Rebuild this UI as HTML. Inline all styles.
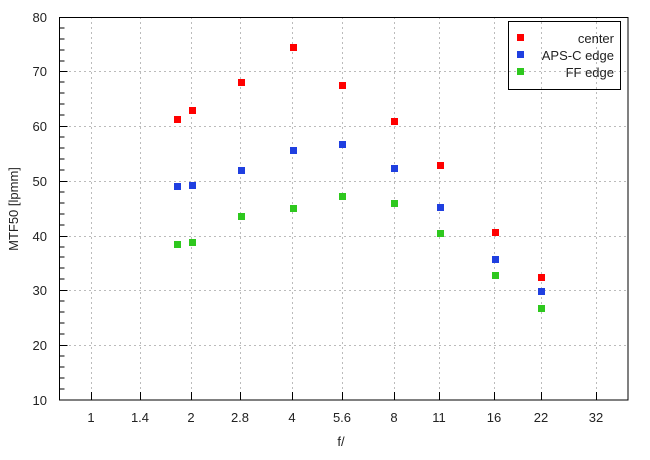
<!DOCTYPE html>
<html><head><meta charset="utf-8"><style>body{margin:0;background:#fff}</style></head><body>
<svg width="650" height="455" xmlns="http://www.w3.org/2000/svg" font-family="Liberation Sans, sans-serif" font-size="13" fill="#222">
<rect width="650" height="455" fill="#fff"/>
<g stroke="#bbb" stroke-dasharray="2,3" stroke-width="1">
<line x1="59" x2="628" y1="345.5" y2="345.5"/><line x1="59" x2="628" y1="290.5" y2="290.5"/><line x1="59" x2="628" y1="236.5" y2="236.5"/><line x1="59" x2="628" y1="181.5" y2="181.5"/><line x1="59" x2="628" y1="126.5" y2="126.5"/><line x1="59" x2="628" y1="71.5" y2="71.5"/>
<line x1="91.5" x2="91.5" y1="17" y2="400"/><line x1="140.5" x2="140.5" y1="17" y2="400"/><line x1="191.5" x2="191.5" y1="17" y2="400"/><line x1="240.5" x2="240.5" y1="17" y2="400"/><line x1="292.5" x2="292.5" y1="17" y2="400"/><line x1="342.5" x2="342.5" y1="17" y2="400"/><line x1="394.5" x2="394.5" y1="17" y2="400"/><line x1="439.5" x2="439.5" y1="17" y2="400"/><line x1="494.5" x2="494.5" y1="17" y2="400"/><line x1="541.5" x2="541.5" y1="17" y2="400"/><line x1="596.5" x2="596.5" y1="17" y2="400"/>
</g>
<g stroke="#000" stroke-width="1">
<path d="M59.5 400 v-6 M59.5 389 h5 M59.5 378 h5 M59.5 367 h5 M59.5 356 h5 M59.5 345.5 h8 M59.5 334 h5 M59.5 323 h5 M59.5 312 h5 M59.5 301 h5 M59.5 290.5 h8 M59.5 279 h5 M59.5 268 h5 M59.5 257 h5 M59.5 247 h5 M59.5 236.5 h8 M59.5 225 h5 M59.5 214 h5 M59.5 203 h5 M59.5 192 h5 M59.5 181.5 h8 M59.5 170 h5 M59.5 159 h5 M59.5 148 h5 M59.5 137 h5 M59.5 126.5 h8 M59.5 115 h5 M59.5 104 h5 M59.5 93 h5 M59.5 82 h5 M59.5 71.5 h8 M59.5 61 h5 M59.5 50 h5 M59.5 39 h5 M59.5 28 h5"/>
<path d="M91.5 400v-8M140.5 400v-8M191.5 400v-8M240.5 400v-8M292.5 400v-8M342.5 400v-8M394.5 400v-8M439.5 400v-8M494.5 400v-8M541.5 400v-8M596.5 400v-8"/>
<rect x="59.5" y="17.5" width="568.5" height="382.5" fill="none"/>
<rect x="508.5" y="21.5" width="112" height="68" fill="none"/>
</g>
<g text-anchor="end"><text x="47" y="405">10</text><text x="47" y="350">20</text><text x="47" y="295">30</text><text x="47" y="241">40</text><text x="47" y="186">50</text><text x="47" y="131">60</text><text x="47" y="76">70</text><text x="47" y="22">80</text></g>
<g text-anchor="middle"><text x="91" y="422">1</text><text x="140" y="422">1.4</text><text x="191" y="422">2</text><text x="240" y="422">2.8</text><text x="292" y="422">4</text><text x="342" y="422">5.6</text><text x="394" y="422">8</text><text x="439" y="422">11</text><text x="494" y="422">16</text><text x="541" y="422">22</text><text x="596" y="422">32</text>
<text x="341" y="446">f/</text>
<text transform="translate(18 209) rotate(-90)">MTF50 [lpmm]</text></g>
<g text-anchor="end"><text x="614" y="43">center</text><text x="614" y="60">APS-C edge</text><text x="614" y="77">FF edge</text></g>
<g fill="#f00"><rect x="517" y="34" width="7" height="7"/>
<rect x="174" y="116" width="7" height="7"/><rect x="189" y="107" width="7" height="7"/><rect x="238" y="79" width="7" height="7"/><rect x="290" y="44" width="7" height="7"/><rect x="339" y="82" width="7" height="7"/><rect x="391" y="118" width="7" height="7"/><rect x="437" y="162" width="7" height="7"/><rect x="492" y="229" width="7" height="7"/><rect x="538" y="274" width="7" height="7"/></g>
<g fill="#1f3fe0"><rect x="517" y="51" width="7" height="7"/>
<rect x="174" y="183" width="7" height="7"/><rect x="189" y="182" width="7" height="7"/><rect x="238" y="167" width="7" height="7"/><rect x="290" y="147" width="7" height="7"/><rect x="339" y="141" width="7" height="7"/><rect x="391" y="165" width="7" height="7"/><rect x="437" y="204" width="7" height="7"/><rect x="492" y="256" width="7" height="7"/><rect x="538" y="288" width="7" height="7"/></g>
<g fill="#2ec81e"><rect x="517" y="68" width="7" height="7"/>
<rect x="174" y="241" width="7" height="7"/><rect x="189" y="239" width="7" height="7"/><rect x="238" y="213" width="7" height="7"/><rect x="290" y="205" width="7" height="7"/><rect x="339" y="193" width="7" height="7"/><rect x="391" y="200" width="7" height="7"/><rect x="437" y="230" width="7" height="7"/><rect x="492" y="272" width="7" height="7"/><rect x="538" y="305" width="7" height="7"/></g>
</svg>
</body></html>
